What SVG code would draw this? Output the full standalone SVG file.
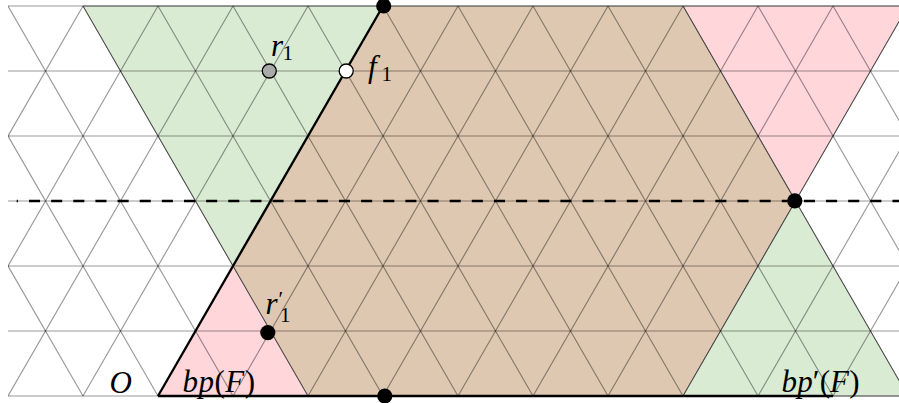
<svg xmlns="http://www.w3.org/2000/svg" width="899" height="403" viewBox="0 0 899 403">
<defs>
<style>
.green{fill:#DAEBD3;stroke:#7a7a7a;stroke-width:1}
.pink{fill:#FFD6DA;stroke:#7a7a7a;stroke-width:1}
.brown{fill:#DFC8B1;stroke:#7a7a7a;stroke-width:1}
.grid{fill:none;stroke:#000;stroke-opacity:0.4;stroke-width:1.15}
.bold{fill:none;stroke:#000;stroke-width:2.3;stroke-linecap:butt}
.dash{fill:none;stroke:#000;stroke-width:2.3;stroke-dasharray:11.07 11.07;stroke-dashoffset:9.84}
.dot{fill:#000}
.m{font-family:"Liberation Serif","Times New Roman",serif;font-style:italic;font-size:31px;fill:#000}
.up{font-style:normal}
.sub{font-style:normal;font-size:21px}
</style>
<clipPath id="gridclip"><rect x="8" y="0" width="900" height="403"/></clipPath>
</defs>
<rect x="0" y="0" width="899" height="403" fill="#fff"/>
<g id="regions">
<polygon id="green-top" class="green" points="83,6 383,6 233,266"/>
<polygon id="pink-top" class="pink" points="683,6 908,6 795.5,201"/>
<polygon id="brown" class="brown" points="383,6 683,6 795.5,201 683,396 158,396"/>
<polygon id="pink-bottom" class="pink" points="158,396 233,266 308,396"/>
<polygon id="green-bottom" class="green" points="795.5,201 683,396 908,396"/>
</g>
<g id="grid" clip-path="url(#gridclip)">
<path class="grid" d="M8,6H899M8,71H899M8,136H899M8,201H899M8,266H899M8,331H899M8,396H899"/>
<path class="grid" d="M-142,396L83,6M-67,396L158,6M8,396L233,6M83,396L308,6M158,396L383,6M233,396L458,6M308,396L533,6M383,396L608,6M458,396L683,6M533,396L758,6M608,396L833,6M683,396L908,6M758,396L983,6M833,396L1058,6"/>
<path class="grid" d="M-142,6L83,396M-67,6L158,396M8,6L233,396M83,6L308,396M158,6L383,396M233,6L458,396M308,6L533,396M383,6L608,396M458,6L683,396M533,6L758,396M608,6L833,396M683,6L908,396M758,6L983,396M833,6L1058,396"/>
</g>
<g id="connectors">
<path id="edge-left" class="bold" d="M158,396L383,6"/>
<path id="edge-bottom" class="bold" d="M158,396H833"/>
<path id="axis" class="dash" d="M16.7,201H899"/>
</g>
<g id="points">
<circle id="top" class="dot" cx="383.7" cy="6" r="7.6"/>
<circle id="bottom" class="dot" cx="384.8" cy="396" r="7.6"/>
<circle id="right" class="dot" cx="794.8" cy="200.8" r="7.6"/>
<circle id="r1p" class="dot" cx="267.8" cy="332.6" r="7.6"/>
<circle id="r1" cx="269.3" cy="71" r="7" fill="#AAAAAA" stroke="#000" stroke-width="1.3"/>
<circle id="f1" cx="346.2" cy="71" r="7" fill="#fff" stroke="#000" stroke-width="1.3"/>
</g>
<g id="labels">
<text class="m" x="271" y="56">r<tspan class="sub" x="282.5" y="59.5">1</tspan></text>
<text class="m" x="368" y="77">f<tspan class="sub" x="381.5" y="80.5">1</tspan></text>
<text class="m" x="265.5" y="313.5">r<tspan class="sub" x="278.5" y="306" font-size="22">′</tspan><tspan class="sub" x="280" y="322">1</tspan></text>
<text class="m" x="109.5" y="393">O</text>
<text class="m" x="182.5" y="392" textLength="72.5" lengthAdjust="spacing">bp<tspan class="up">(</tspan>F<tspan class="up">)</tspan></text>
<text class="m" x="781.5" y="392" textLength="78" lengthAdjust="spacing">bp<tspan class="up">′(</tspan>F<tspan class="up">)</tspan></text>
</g>
</svg>
